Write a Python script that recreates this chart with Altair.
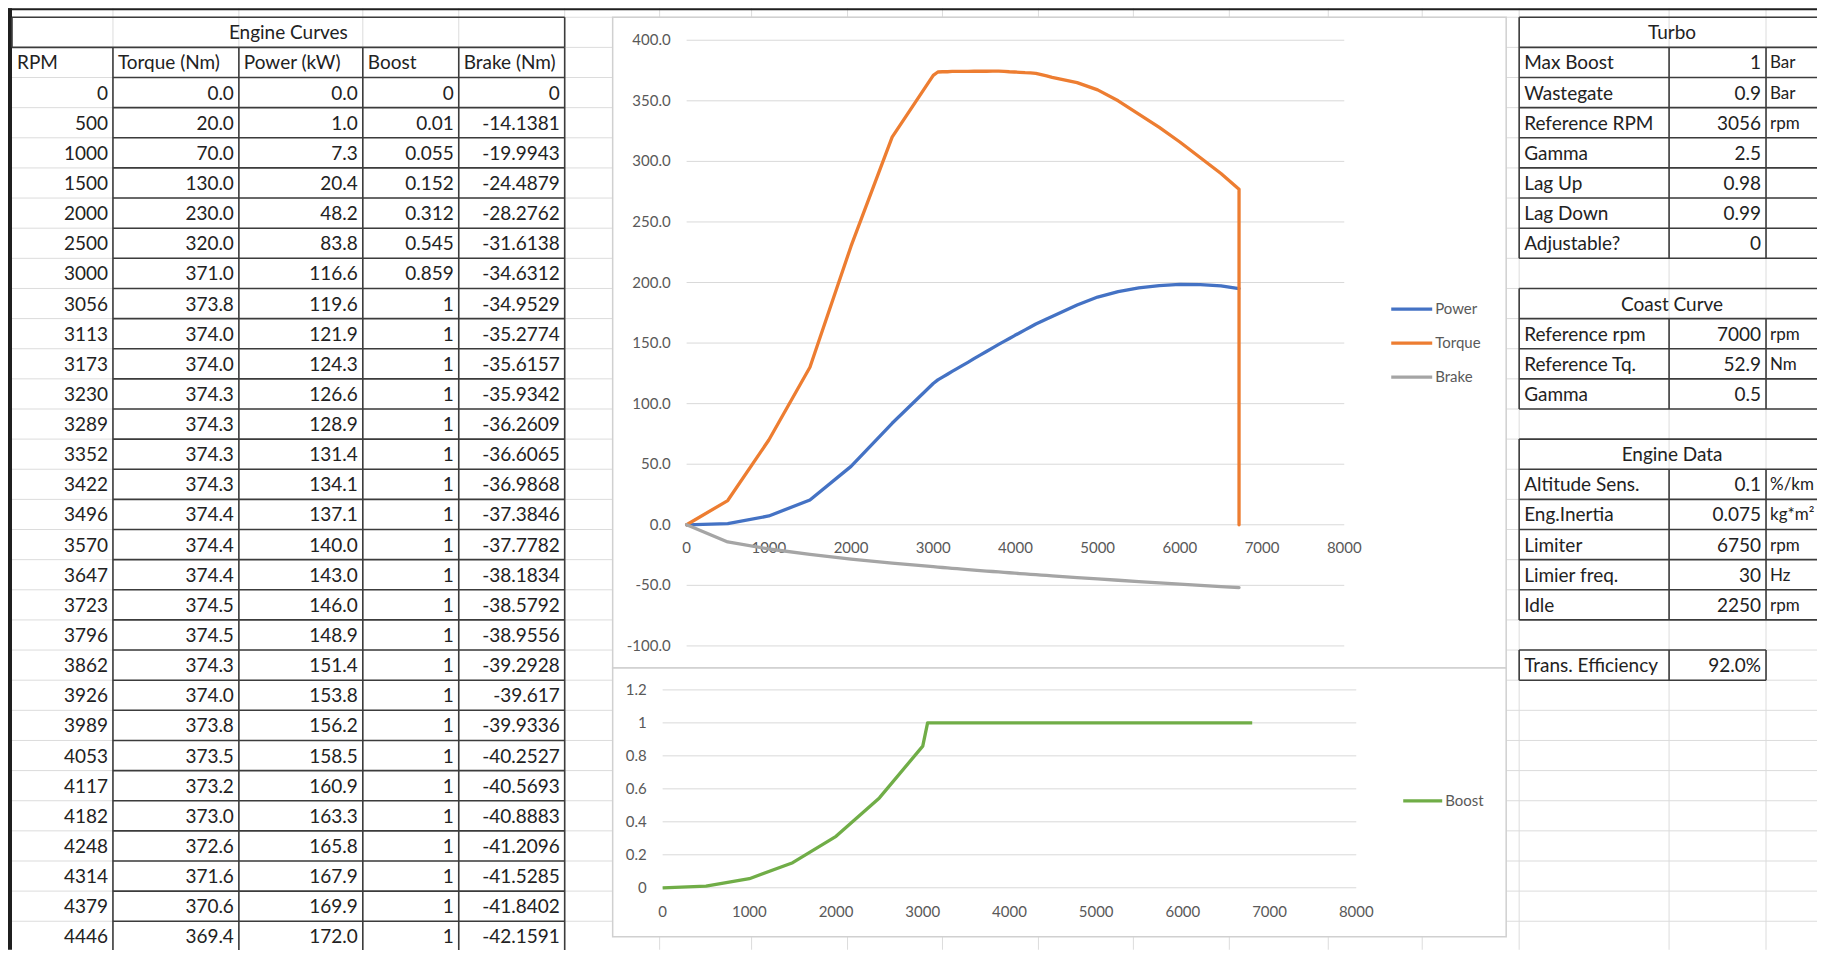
import altair as alt
import pandas as pd

# ---------------- data ----------------
rpm = [0, 500, 1000, 1500, 2000, 2500, 3000, 3056, 3113, 3173, 3230, 3289, 3352, 3422,
       3496, 3570, 3647, 3723, 3796, 3862, 3926, 3989, 4053, 4117, 4182, 4248, 4314, 4379, 4446]
torque = [0.0, 20.0, 70.0, 130.0, 230.0, 320.0, 371.0, 373.8, 374.0, 374.0, 374.3, 374.3, 374.3, 374.3,
          374.4, 374.4, 374.4, 374.5, 374.5, 374.3, 374.0, 373.8, 373.5, 373.2, 373.0, 372.6, 371.6, 370.6, 369.4]
power = [0.0, 1.0, 7.3, 20.4, 48.2, 83.8, 116.6, 119.6, 121.9, 124.3, 126.6, 128.9, 131.4, 134.1,
         137.1, 140.0, 143.0, 146.0, 148.9, 151.4, 153.8, 156.2, 158.5, 160.9, 163.3, 165.8, 167.9, 169.9, 172.0]
boost = [0, 0.01, 0.055, 0.152, 0.312, 0.545, 0.859, 1, 1, 1, 1, 1, 1, 1,
         1, 1, 1, 1, 1, 1, 1, 1, 1, 1, 1, 1, 1, 1, 1]
brake = [0, -14.1381, -19.9943, -24.4879, -28.2762, -31.6138, -34.6312, -34.9529, -35.2774, -35.6157,
         -35.9342, -36.2609, -36.6065, -36.9868, -37.3846, -37.7782, -38.1834, -38.5792, -38.9556,
         -39.2928, -39.617, -39.9336, -40.2527, -40.5693, -40.8883, -41.2096, -41.5285, -41.8402, -42.1591]

# continuation of the curves beyond the visible table rows
rpm_ext = [4750, 5000, 5250, 5500, 5750, 6000, 6250, 6500, 6720]
torque_ext = [365.0, 359.0, 350.0, 339.0, 328.0, 316.0, 303.0, 290.0, 277.0]
power_ext = [181.5, 188.0, 192.5, 195.5, 197.5, 198.5, 198.3, 197.2, 195.0]
brake_ext = [-43.6, -44.7, -45.8, -46.9, -47.9, -49.0, -50.0, -51.0, -51.8]
torque_cut_rpm = [6720]
torque_cut = [0.0]
boost_ext_rpm = [6800]
boost_ext = [1]

curve_series = ["Power", "Torque", "Brake"]
curve_colors = ["#4472C4", "#ED7D31", "#A5A5A5"]
boost_color = "#70AD47"

y1_ticks = [-100, -50, 0, 50, 100, 150, 200, 250, 300, 350, 400]
x_ticks = [0, 1000, 2000, 3000, 4000, 5000, 6000, 7000, 8000]
y2_ticks = [0, 0.2, 0.4, 0.6, 0.8, 1.0, 1.2]
y2_labels = ["0", "0.2", "0.4", "0.6", "0.8", "1", "1.2"]

turbo_labels = ["Max Boost", "Wastegate", "Reference RPM", "Gamma", "Lag Up", "Lag Down", "Adjustable?"]
turbo_values = ["1", "0.9", "3056", "2.5", "0.98", "0.99", "0"]
turbo_units = ["Bar", "Bar", "rpm", "", "", "", ""]
coast_labels = ["Reference rpm", "Reference Tq.", "Gamma"]
coast_values = ["7000", "52.9", "0.5"]
coast_units = ["rpm", "Nm", ""]
engine_labels = ["Altitude Sens.", "Eng.Inertia", "Limiter", "Limier freq.", "Idle"]
engine_values = ["0.1", "0.075", "6750", "30", "2250"]
engine_units = ["%/km", "kg*m²", "rpm", "Hz", "rpm"]
trans_label = "Trans. Efficiency"
trans_value = "92.0%"

# ---------------- layout ----------------
OFF = 8
W, H = 1810, 942
FONT = "Lato"
TXT = "#222222"
AX = "#595959"
GRID = "#dcdcdc"
BORDER = "#3c3c3c"
TFS = 19
UFS = 17
AFS = 15
LW = 3.3


def px(v):
    return v - OFF


ROW0, RH, NROWS = px(17), 30.15, 31
SX = alt.Scale(domain=[0, W], range=[0, W], nice=False, zero=False)
SY = alt.Scale(domain=[0, NROWS], range=[ROW0, ROW0 + NROWS * RH], nice=False, zero=False)
PY = alt.Scale(domain=[0, H], range=[0, H], nice=False, zero=False)

one = pd.DataFrame({"a": [0]})

# ----- spreadsheet grid -----
sheet_cols = [113, 239, 363, 459, 565, 660, 752, 848, 943, 1039, 1134, 1230, 1329, 1423, 1520, 1670, 1767]
gh = pd.DataFrame({"r": list(range(0, NROWS + 2))})
gv = pd.DataFrame({"x": [px(c) for c in sheet_cols]})
grid = alt.layer(
    alt.Chart(gh).mark_rule(color=GRID, strokeWidth=1).encode(
        y=alt.Y("r:Q", scale=SY, axis=None), x=alt.value(px(12)), x2=alt.value(W)),
    alt.Chart(gv).mark_rule(color=GRID, strokeWidth=1).encode(
        x=alt.X("x:Q", scale=SX, axis=None), y=alt.value(0), y2=alt.value(H)),
    alt.Chart(one).mark_rect(color="#1f1f1f").encode(
        x=alt.value(0), x2=alt.value(W), y=alt.value(0), y2=alt.value(2)),
    alt.Chart(one).mark_rect(color="#1f1f1f").encode(
        x=alt.value(0), x2=alt.value(4), y=alt.value(0), y2=alt.value(H)),
)

# ----- chart object frames -----
frames_df = pd.DataFrame({
    "x": [px(613), px(613)], "x2": [px(1507), px(1507)],
    "y": [px(17), px(668)], "y2": [px(668), px(937)]})
frames = alt.Chart(frames_df).mark_rect(fill="white", stroke="#d0d0d0", strokeWidth=1.5).encode(
    x=alt.X("x:Q", scale=SX, axis=None), x2="x2:Q",
    y=alt.Y("y:Q", scale=PY, axis=None), y2="y2:Q")

# ----- chart 1: power / torque / brake -----
X1 = alt.Scale(domain=[0, 8000], range=[px(687), px(1345)], nice=False, zero=False)
Y1 = alt.Scale(domain=[-100, 400], range=[px(646), px(40)], nice=False, zero=False)
C1 = alt.Scale(domain=curve_series, range=curve_colors)

rows = []
for name, base, ext in [("Power", power, power_ext), ("Torque", torque, torque_ext), ("Brake", brake, brake_ext)]:
    xs = rpm + rpm_ext
    ys = base + ext
    if name == "Torque":
        xs = xs + torque_cut_rpm
        ys = ys + torque_cut
    for i, (a, b) in enumerate(zip(xs, ys)):
        rows.append({"rpm": a, "value": b, "series": name, "i": i})
curves = pd.DataFrame(rows)

g1 = pd.DataFrame({"y": y1_ticks, "xs": [0] * len(y1_ticks), "xe": [8000] * len(y1_ticks),
                   "lab": [f"{v:.1f}" for v in y1_ticks]})
xl = pd.DataFrame({"x": x_ticks, "lab": [str(v) for v in x_ticks]})

chart1 = alt.layer(
    alt.Chart(g1).mark_rule(color="#d9d9d9", strokeWidth=1).encode(
        x=alt.X("xs:Q", scale=X1, axis=None), x2="xe:Q", y=alt.Y("y:Q", scale=Y1, axis=None)),
    alt.Chart(g1).mark_text(align="right", baseline="middle", fontSize=AFS, color=AX).encode(
        y=alt.Y("y:Q", scale=Y1, axis=None), x=alt.value(px(671)), text="lab:N"),
    alt.Chart(xl).mark_text(align="center", baseline="middle", fontSize=AFS, color=AX).encode(
        x=alt.X("x:Q", scale=X1, axis=None), y=alt.value(px(548)), text="lab:N"),
    alt.Chart(curves).mark_line(strokeWidth=LW, strokeJoin="round", strokeCap="round").encode(
        x=alt.X("rpm:Q", scale=X1, axis=None),
        y=alt.Y("value:Q", scale=Y1, axis=None),
        color=alt.Color("series:N", scale=C1, legend=None),
        order="i:Q"),
)

# ----- chart 2: boost -----
X2 = alt.Scale(domain=[0, 8000], range=[px(663), px(1357)], nice=False, zero=False)
Y2 = alt.Scale(domain=[0, 1.2], range=[px(888), px(690)], nice=False, zero=False)
boost_df = pd.DataFrame({"rpm": rpm + boost_ext_rpm, "value": boost + boost_ext})
boost_df["i"] = range(len(boost_df))
g2 = pd.DataFrame({"y": y2_ticks, "xs": [0] * len(y2_ticks), "xe": [8000] * len(y2_ticks), "lab": y2_labels})

chart2 = alt.layer(
    alt.Chart(g2).mark_rule(color="#d9d9d9", strokeWidth=1).encode(
        x=alt.X("xs:Q", scale=X2, axis=None), x2="xe:Q", y=alt.Y("y:Q", scale=Y2, axis=None)),
    alt.Chart(g2).mark_text(align="right", baseline="middle", fontSize=AFS, color=AX).encode(
        y=alt.Y("y:Q", scale=Y2, axis=None), x=alt.value(px(647)), text="lab:N"),
    alt.Chart(xl).mark_text(align="center", baseline="middle", fontSize=AFS, color=AX).encode(
        x=alt.X("x:Q", scale=X2, axis=None), y=alt.value(px(912)), text="lab:N"),
    alt.Chart(boost_df).mark_line(strokeWidth=LW, strokeJoin="round", color=boost_color).encode(
        x=alt.X("rpm:Q", scale=X2, axis=None),
        y=alt.Y("value:Q", scale=Y2, axis=None),
        order="i:Q"),
)

# ----- legends -----
L1 = alt.Scale(domain=[0, 2], range=[px(309), px(377)], nice=False, zero=False)
leg1_df = pd.DataFrame({"series": curve_series, "k": [0, 1, 2]})
legend1 = alt.layer(
    alt.Chart(leg1_df).mark_rule(strokeWidth=LW).encode(
        y=alt.Y("k:Q", scale=L1, axis=None), x=alt.value(px(1392)), x2=alt.value(px(1433)),
        color=alt.Color("series:N", scale=C1, legend=None)),
    alt.Chart(leg1_df).mark_text(align="left", baseline="middle", fontSize=AFS, color=AX).encode(
        y=alt.Y("k:Q", scale=L1, axis=None), x=alt.value(px(1436)), text="series:N"),
)
leg2_df = pd.DataFrame({"series": ["Boost"], "k": [0]})
L2 = alt.Scale(domain=[0, 1], range=[px(801), px(830)], nice=False, zero=False)
legend2 = alt.layer(
    alt.Chart(leg2_df).mark_rule(strokeWidth=LW, color=boost_color).encode(
        y=alt.Y("k:Q", scale=L2, axis=None), x=alt.value(px(1404)), x2=alt.value(px(1443))),
    alt.Chart(leg2_df).mark_text(align="left", baseline="middle", fontSize=AFS, color=AX).encode(
        y=alt.Y("k:Q", scale=L2, axis=None), x=alt.value(px(1446)), text="series:N"),
)

# ----- tables -----
cells = []   # text cells: x, row (center), text, align, font size
segs = []    # border segments: x, x2, y, y2 (y in sheet rows)

# left: Engine Curves
LC = [px(12), px(113), px(239), px(363), px(459), px(565)]
cells.append({"x": (LC[0] + LC[-1]) / 2, "r": 0.5, "t": "Engine Curves", "al": "center", "fs": TFS})
for j, h in enumerate(["RPM", "Torque (Nm)", "Power (kW)", "Boost", "Brake (Nm)"]):
    cells.append({"x": LC[j] + 5, "r": 1.5, "t": h, "al": "left", "fs": TFS})
for i in range(len(rpm)):
    r = 2 + i + 0.5
    vals = [str(rpm[i]), f"{torque[i]:.1f}", f"{power[i]:.1f}", f"{boost[i]:g}", f"{brake[i]:g}"]
    for j, v in enumerate(vals):
        cells.append({"x": LC[j + 1] - 5, "r": r, "t": v, "al": "right", "fs": TFS})
segs += [
    {"x": LC[0], "x2": LC[-1], "y": 0, "y2": 0},
    {"x": LC[0], "x2": LC[-1], "y": 1, "y2": 1},
    {"x": LC[0], "x2": LC[0], "y": 0, "y2": 1},
    {"x": LC[-1], "x2": LC[-1], "y": 0, "y2": 1},
]
for c in LC[1:]:
    segs.append({"x": c, "x2": c, "y": 1, "y2": NROWS + 1})
for k in range(2, NROWS + 1):
    segs.append({"x": LC[1], "x2": LC[-1], "y": k, "y2": k})

# right tables
RC = [px(1520), px(1670), px(1767), px(1826)]


def kv_table(title, labels, values, units, top):
    cells.append({"x": (RC[0] + RC[3]) / 2, "r": top + 0.5, "t": title, "al": "center", "fs": TFS})
    n = len(labels)
    for i in range(n):
        r = top + 1 + i + 0.5
        cells.append({"x": RC[0] + 5, "r": r, "t": labels[i], "al": "left", "fs": TFS})
        cells.append({"x": RC[2] - 5, "r": r, "t": values[i], "al": "right", "fs": TFS})
        if units[i]:
            cells.append({"x": RC[2] + 4, "r": r, "t": units[i], "al": "left", "fs": UFS})
    for k in range(top, top + n + 2):
        segs.append({"x": RC[0], "x2": RC[3], "y": k, "y2": k})
    segs.append({"x": RC[0], "x2": RC[0], "y": top, "y2": top + n + 1})
    segs.append({"x": RC[3], "x2": RC[3], "y": top, "y2": top + n + 1})
    for c in RC[1:3]:
        segs.append({"x": c, "x2": c, "y": top + 1, "y2": top + n + 1})


kv_table("Turbo", turbo_labels, turbo_values, turbo_units, 0)
kv_table("Coast Curve", coast_labels, coast_values, coast_units, 9)
kv_table("Engine Data", engine_labels, engine_values, engine_units, 14)
cells.append({"x": RC[0] + 5, "r": 21.5, "t": trans_label, "al": "left", "fs": TFS})
cells.append({"x": RC[2] - 5, "r": 21.5, "t": trans_value, "al": "right", "fs": TFS})
for k in (21, 22):
    segs.append({"x": RC[0], "x2": RC[2], "y": k, "y2": k})
for c in RC[:3]:
    segs.append({"x": c, "x2": c, "y": 21, "y2": 22})

cells_df = pd.DataFrame(cells)
segs_df = pd.DataFrame(segs)

borders = alt.Chart(segs_df).mark_rule(color=BORDER, strokeWidth=1.6).encode(
    x=alt.X("x:Q", scale=SX, axis=None), x2="x2:Q",
    y=alt.Y("y:Q", scale=SY, axis=None), y2="y2:Q")


def text_layer(al, fs):
    sub = cells_df[(cells_df["al"] == al) & (cells_df["fs"] == fs)]
    return alt.Chart(sub).mark_text(
        align=al, baseline="middle", fontSize=fs, color=TXT, dy=1).encode(
        x=alt.X("x:Q", scale=SX, axis=None),
        y=alt.Y("r:Q", scale=SY, axis=None),
        text="t:N")


tables = alt.layer(borders, text_layer("left", TFS), text_layer("left", UFS),
                   text_layer("right", TFS), text_layer("center", TFS))

chart = alt.layer(grid, frames, chart1, chart2, legend1, legend2, tables).resolve_scale(
    x="independent", y="independent", color="independent"
).properties(
    width=W, height=H, padding=0, background="white",
    autosize=alt.AutoSizeParams(type="none"),
).configure_view(stroke=None).configure_text(font=FONT)

chart.save("out.html", embed_options={"renderer": "svg", "actions": False})
